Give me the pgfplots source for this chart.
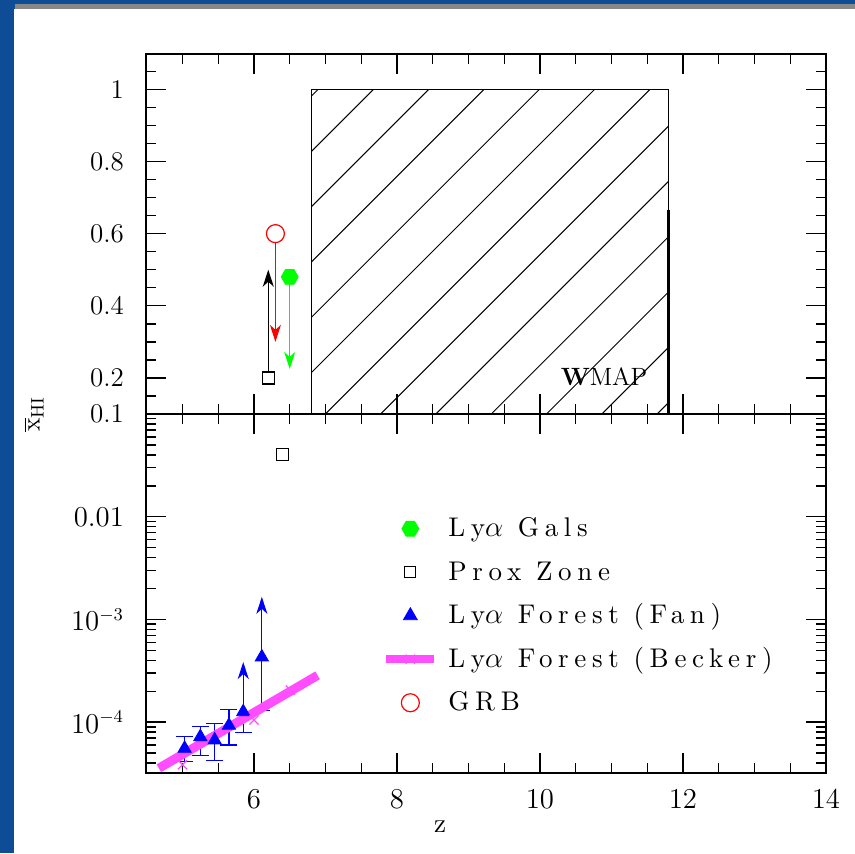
\documentclass[border=0pt]{standalone}
\usepackage{fontspec}
\usepackage{pgfplots}
\pgfplotsset{compat=1.18}
\usetikzlibrary{arrows.meta,calc}

\newfontfamily\spaced{lmroman10}[Extension=.otf, UprightFont=*-regular, BoldFont=*-bold, LetterSpace=21]
\newcommand\lab{\spaced\fontsize{13.5}{15}\selectfont}
\newcommand\ticks{\fontsize{13.5}{15}\selectfont}

\definecolor{bgblue}{HTML}{0E4C96}
\definecolor{slidegray}{HTML}{888888}
\definecolor{becker}{HTML}{FF4DFF}
\definecolor{limegreen}{HTML}{00FF00}

\pgfdeclareplotmark{hexagon*}{%
  \pgfpathmoveto{\pgfqpointpolar{0}{\pgfplotmarksize}}%
  \pgfpathlineto{\pgfqpointpolar{60}{\pgfplotmarksize}}%
  \pgfpathlineto{\pgfqpointpolar{120}{\pgfplotmarksize}}%
  \pgfpathlineto{\pgfqpointpolar{180}{\pgfplotmarksize}}%
  \pgfpathlineto{\pgfqpointpolar{240}{\pgfplotmarksize}}%
  \pgfpathlineto{\pgfqpointpolar{300}{\pgfplotmarksize}}%
  \pgfpathclose
  \pgfusepathqfillstroke
}

\pgfplotsset{
  panel/.style={
    width=340pt, scale only axis, xmin=4.49, xmax=14,
    axis line style={line width=0.9pt},
    tick style={black, line width=0.7pt},
    major tick length=10pt, minor tick length=5pt,
    xtick={6,8,10,12,14}, minor xtick={4.5,5,...,14},
    tick label style={font=\ticks},
    yticklabel style={anchor=east, xshift=-7.5pt},
    xticklabel style={yshift=-5pt},
  },
  lim/.style={line width=0.6pt, -{Stealth[length=8.5pt,width=5.5pt,inset=2.5pt]}},
}

\begin{document}
\begin{tikzpicture}
% slide background
\fill[bgblue] (-73pt,-40pt) rectangle (354.5pt,386.5pt);
\path[use as bounding box] (-73pt,-40pt) rectangle (354.5pt,386.5pt);
\fill[slidegray] (-65.5pt,382pt) rectangle (354.5pt,384.5pt);
\fill[white] (-66pt,-40pt) rectangle (354.5pt,382pt);

% upper panel, linear
\begin{axis}[panel, at={(0,179.5pt)}, anchor=south west, height=180pt,
  ymin=0.1, ymax=1.098,
  ytick={0.1,0.2,0.4,0.6,0.8,1}, yticklabels={0.1,0.2,0.4,0.6,0.8,1},
  minor ytick={0.15,0.2,...,1.05},
  xticklabels={}]
\addplot[black, line width=0.5pt] coordinates {(6.8,0.1) (6.8,1) (11.8,1) (11.8,0.1)};
\addplot[black, line width=1.6pt] coordinates {(11.8,0.1) (11.8,0.665)};
% prox zone lower limit
\addplot[black, lim] coordinates {(6.2,0.2) (6.2,0.5)};
\addplot[black, only marks, mark=square*, mark size=3pt, mark options={fill=white, line width=0.6pt}] coordinates {(6.2,0.2)};
% GRB upper limit
\addplot[red, lim] coordinates {(6.3,0.6) (6.3,0.3)};
\addplot[red, only marks, mark=*, mark size=4.5pt, mark options={fill=white, line width=0.6pt}] coordinates {(6.3,0.6)};
% Lya galaxies upper limit
\addplot[limegreen, lim] coordinates {(6.5,0.48) (6.5,0.225)};
\addplot[limegreen, only marks, mark=hexagon*, mark size=4.25pt] coordinates {(6.5,0.48)};
\coordinate (hBL) at (axis cs:6.8,0.1);
\coordinate (hTR) at (axis cs:11.8,1);
\end{axis}

% WMAP hatching
\begin{scope}
\clip (hBL) rectangle (hTR);
\foreach \k in {0,...,12}
  \draw[line width=0.5pt] ($(hBL |- hTR)+(3.5pt+27.65pt*\k,0)$) -- ++(-200pt,-200pt);
\end{scope}

% lower panel, log
\begin{axis}[panel, ymode=log, at={(0,0)}, anchor=south west, height=179.5pt,
  ymin=3.2e-5, ymax=0.1,
  ytick={1e-4,1e-3,1e-2}, yticklabels={$10^{-4}$,$10^{-3}$,$0.01$},
  minor ytick={4e-5,5e-5,6e-5,7e-5,8e-5,9e-5,2e-4,3e-4,4e-4,5e-4,6e-4,7e-4,8e-4,9e-4,
    2e-3,3e-3,4e-3,5e-3,6e-3,7e-3,8e-3,9e-3,2e-2,3e-2,4e-2,5e-2,6e-2,7e-2,8e-2,9e-2},
  legend style={draw=none, fill=none, at={(0.347,0.715)}, anchor=north west, inner sep=0pt,
    font=\lab, row sep=9.75pt, column sep=5pt,
    nodes={inner sep=0pt, text height=10pt, text depth=2pt}},
  legend cell align=left,
  legend image code/.code={\draw[mark repeat=2,mark phase=2,#1] plot coordinates {(0pt,0pt) (12pt,0pt) (24pt,0pt)};},
]
\addlegendimage{only marks, mark=hexagon*, limegreen, mark size=4.25pt}
\addlegendentry{Ly$\alpha$ Gals}
\addlegendimage{only marks, mark=square, black, mark size=2.75pt, mark options={line width=0.6pt}}
\addlegendentry{Prox Zone}
\addlegendimage{only marks, mark=triangle*, blue, mark size=4pt}
\addlegendentry{Ly$\alpha$ Forest (Fan)}
\addlegendimage{becker, line width=4pt, mark=x, mark size=3.25pt, mark options={line width=0.6pt}}
\addlegendentry{Ly$\alpha$ Forest (Becker)}
\addlegendimage{only marks, mark=*, red, mark size=4.5pt, mark options={fill=white, line width=0.6pt}}
\addlegendentry{GRB}

\addplot[black, only marks, mark=square, mark size=3pt, mark options={line width=0.6pt}, forget plot] coordinates {(6.4,0.04)};

% Fan et al. measurements
\addplot[blue, only marks, mark=triangle*, mark size=3.8pt, forget plot,
  error bars/.cd, y dir=both, y explicit,
  error bar style={line width=0.6pt},
  error mark options={rotate=90, mark size=4.25pt, line width=0.6pt}]
  coordinates {
  (5.03,5.55e-5) += (0,1.75e-5) -= (0,1.41e-5)
  (5.25,7.2e-5) += (0,1.8e-5) -= (0,2.5e-5)
  (5.45,6.7e-5) += (0,3.0e-5) -= (0,2.5e-5)
  (5.65,9.3e-5) += (0,4.0e-5) -= (0,3.3e-5)
  };
\addplot[blue, lim, forget plot] coordinates {(5.85,1.26e-4) (5.85,3.85e-4)};
\addplot[blue, lim, forget plot] coordinates {(6.11,4.3e-4) (6.11,1.66e-3)};
\addplot[blue, only marks, mark=triangle*, mark size=3.8pt, forget plot,
  error bars/.cd, y dir=minus, y explicit,
  error bar style={line width=0.6pt},
  error mark options={rotate=90, mark size=4.25pt, line width=0.6pt}]
  coordinates {
  (5.85,1.26e-4) -= (0,4.6e-5)
  (6.11,4.3e-4) -= (0,3.01e-4)
  };

% Becker et al.
\addplot[becker, line width=4.5pt, forget plot] coordinates {(4.67,3.56e-5) (6.89,2.86e-4)};
\addplot[becker, only marks, mark=x, mark size=3.25pt, mark options={line width=0.6pt}, forget plot]
  coordinates {(5.0,3.85e-5) (6.0,1.05e-4) (6.51,2.05e-4)};
\end{axis}

\node[font=\fontsize{12.5}{14}\selectfont] at (229pt,198pt) {{\bfseries W}MAP};
\node[font=\fontsize{13}{15}\selectfont, rotate=90] at (-56pt,179.5pt) {$\overline{\mathrm{x}}_{\mathrm{HI}}$};
\node[font=\lab] at (147pt,-27pt) {z};
\end{tikzpicture}
\end{document}
